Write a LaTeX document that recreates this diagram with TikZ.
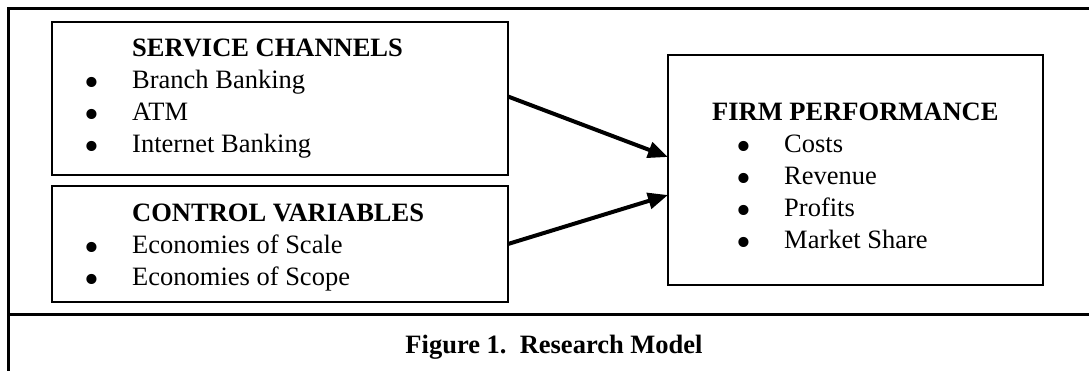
\documentclass[tikz,border=0pt]{standalone}
\usepackage{fontspec}
\setmainfont{Liberation Serif}
\usepackage{array}
\usepackage{tikz}
\usetikzlibrary{arrows.meta}

\newcommand{\boxfont}{\fontsize{26.5pt}{32pt}\selectfont}
\newcommand{\dotmark}{\smash{\raisebox{-7.5pt}{\scalebox{1.6}{\textbullet}}}}

\begin{document}
\begin{tikzpicture}[x=1pt,y=-1pt,
  box/.style={draw,line width=2pt,inner sep=0pt,outer sep=0pt,anchor=north west},
  list/.style={inner sep=0pt,anchor=base west,font=\boxfont},
  flow/.style={line width=4pt,-{Triangle[length=20pt,width=16pt]}},
  frame/.style={line width=3pt}]
\useasboundingbox (0,0) rectangle (1089,371);
\draw[frame] (1089,9) -- (8,9) -- (8,371);
\draw[frame] (8,314) -- (1089,314);
\node[box,minimum width=456pt,minimum height=153pt] (svc) at (52,22) {};
\node[box,minimum width=456pt,minimum height=116pt] (ctrl) at (52,186) {};
\node[box,minimum width=375pt,minimum height=230pt] (perf) at (668,55) {};
\node[list] (svc-list) at (84,57) {\begin{tabular}[t]{@{}p{48pt}@{}l@{}}
  & \textbf{SERVICE CHANNELS}\\
  \dotmark & Branch Banking\\
  \dotmark & ATM\\
  \dotmark & Internet Banking
\end{tabular}};
\node[list] (ctrl-list) at (84,222) {\begin{tabular}[t]{@{}p{48pt}@{}l@{}}
  & \textbf{CONTROL VARIABLES}\\
  \dotmark & Economies of Scale\\
  \dotmark & Economies of Scope
\end{tabular}};
\node[list] (perf-list) at (712,121) {\begin{tabular}[t]{@{\hspace{24pt}}p{48pt}@{}l@{}}
  \multicolumn{2}{@{}l@{}}{\textbf{FIRM PERFORMANCE}}\\
  \dotmark & Costs\\
  \dotmark & Revenue\\
  \dotmark & Profits\\
  \dotmark & Market Share
\end{tabular}};
\draw[flow] ([yshift=2pt]svc.east) -- ([yshift=13pt]perf.west);
\draw[flow] (ctrl.east) -- ([yshift=-25pt]perf.west);
\node[inner sep=0pt,anchor=base,font=\boxfont\bfseries] (caption) at (554,353) {Figure 1.\ \ Research Model};
\end{tikzpicture}
\end{document}
